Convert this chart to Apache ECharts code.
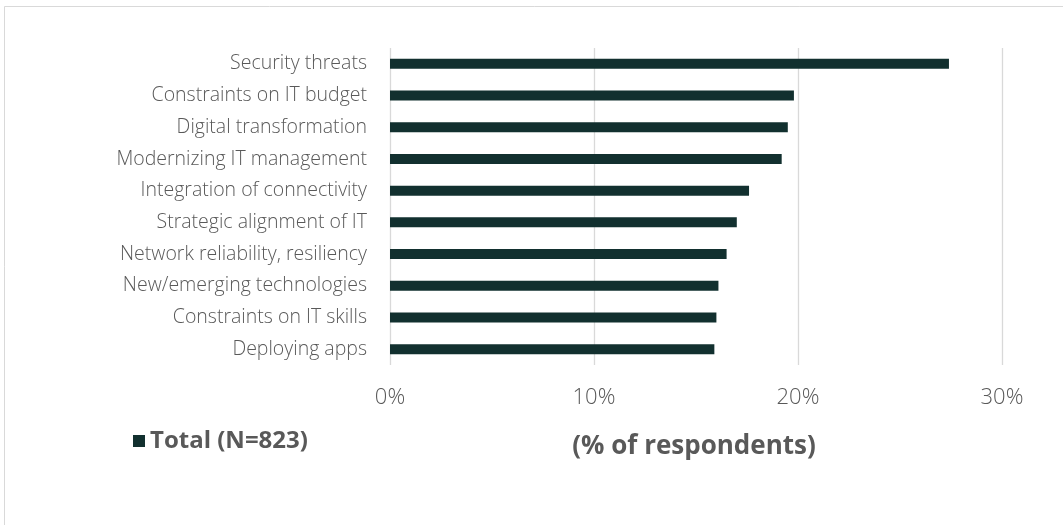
<!DOCTYPE html>
<html>
<head>
<meta charset="utf-8">
<script src="https://cdn.jsdelivr.net/npm/echarts@6/dist/echarts.min.js"></script>
<style>
  html, body { margin: 0; padding: 0; background: #ffffff; }
  #chart { width: 1063px; height: 525px; }
</style>
</head>
<body>
<div id="chart"></div>
<script>
// Top IT priorities, share of respondents (percent)
const categories = [
  'Security threats',
  'Constraints on IT budget',
  'Digital transformation',
  'Modernizing IT management',
  'Integration of connectivity',
  'Strategic alignment of IT',
  'Network reliability, resiliency',
  'New/emerging technologies',
  'Constraints on IT skills',
  'Deploying apps'
];
const totalValues = [27.4, 19.8, 19.5, 19.2, 17.6, 17.0, 16.5, 16.1, 16.0, 15.9];
const seriesName = 'Total (N=823)';
const axisTitle = '(% of respondents)';
const xTicks = { min: 0, max: 30, interval: 10 };

const FONT = '"Open Sans", "Noto Sans", sans-serif';
const TEXT = '#595959';
const BAR = '#12302f';

const chart = echarts.init(document.getElementById('chart'), null, { renderer: 'canvas' });
chart.setOption({
  animation: false,
  backgroundColor: '#ffffff',
  textStyle: { fontFamily: FONT },
  graphic: [{
    type: 'rect',
    shape: { x: 4.5, y: 6.5, width: 1200, height: 700 },
    style: { fill: 'none', stroke: '#d9d9d9', lineWidth: 1 },
    silent: true,
    z: -10
  }],
  grid: { left: 390, right: 61, top: 48, bottom: 160, containLabel: false },
  legend: {
    data: [seriesName],
    left: 128,
    top: 424,
    icon: 'rect',
    itemWidth: 12,
    itemHeight: 12,
    itemGap: 4,
    textStyle: { fontFamily: FONT, fontSize: 24, fontWeight: 'bold', color: TEXT }
  },
  xAxis: {
    type: 'value',
    min: xTicks.min,
    max: xTicks.max,
    interval: xTicks.interval,
    name: axisTitle,
    nameLocation: 'middle',
    nameGap: 69,
    nameTextStyle: { fontFamily: FONT, fontSize: 26, fontWeight: 'bold', color: TEXT, padding: [0, 4, 0, 0] },
    axisLine: { show: false },
    axisTick: { show: false },
    axisLabel: {
      formatter: v => v + '%',
      fontFamily: FONT, fontSize: 22, fontWeight: 300, color: TEXT, margin: 22
    },
    splitLine: { show: true, lineStyle: { color: '#d9d9d9', width: 1.3 } }
  },
  yAxis: {
    type: 'category',
    data: categories,
    inverse: true,
    axisLine: { show: false },
    axisTick: { show: false },
    axisLabel: { fontFamily: FONT, fontSize: 19.5, fontWeight: 300, color: TEXT, margin: 23 }
  },
  series: [{
    name: seriesName,
    type: 'bar',
    data: totalValues,
    barWidth: 10,
    itemStyle: { color: BAR }
  }]
});
</script>
</body>
</html>
